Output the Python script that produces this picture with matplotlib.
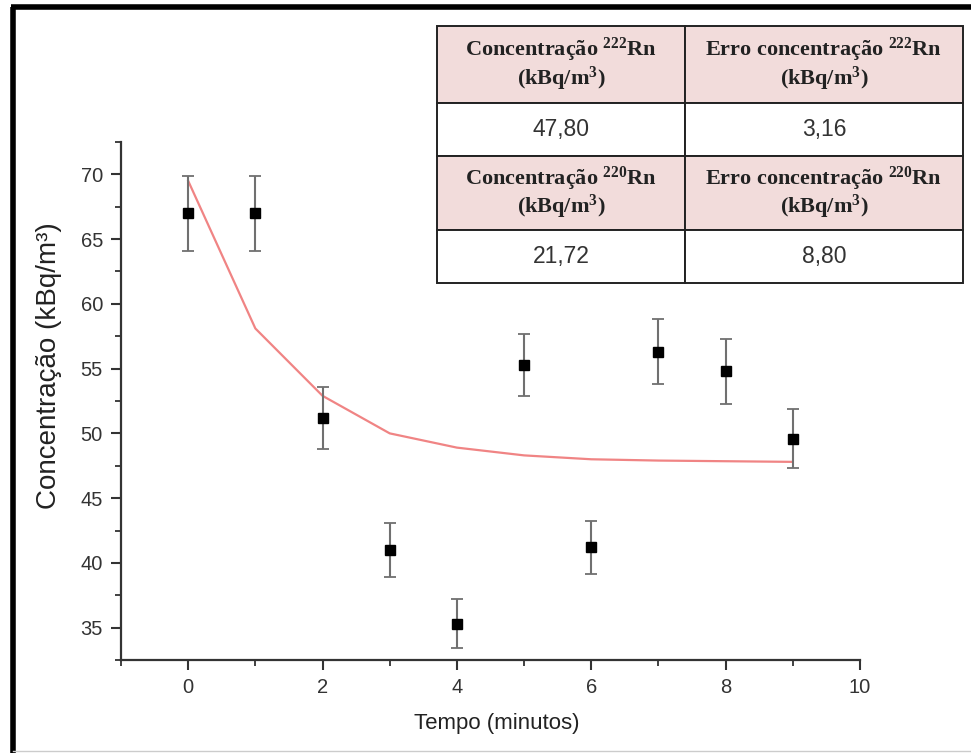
import matplotlib
matplotlib.use("Agg")
import matplotlib.pyplot as plt
from matplotlib.lines import Line2D
from matplotlib.patches import Rectangle
from matplotlib.ticker import MultipleLocator

plt.rcParams["mathtext.fontset"] = "custom"
plt.rcParams["mathtext.rm"] = "Liberation Serif:bold"
plt.rcParams["mathtext.it"] = "Liberation Serif:bold:italic"
plt.rcParams["mathtext.bf"] = "Liberation Serif:bold"

# ---- data ----
tempo = [0, 1, 2, 3, 4, 5, 6, 7, 8, 9]
concentracao = [67.0, 67.0, 51.2, 41.0, 35.3, 55.3, 41.2, 56.3, 54.8, 49.6]
erro = [2.9, 2.9, 2.4, 2.1, 1.9, 2.4, 2.05, 2.5, 2.5, 2.3]
ajuste_t = [0, 1, 2, 3, 4, 5, 6, 7, 8, 9]
ajuste_y = [69.5, 58.1, 52.9, 50.0, 48.9, 48.3, 48.0, 47.9, 47.85, 47.8]

tabela_cabecalhos = [
    ["Concentração $^{222}$Rn\n(kBq/m$^{3}$)", "Erro concentração $^{222}$Rn\n(kBq/m$^{3}$)"],
    ["Concentração $^{220}$Rn\n(kBq/m$^{3}$)", "Erro concentração $^{220}$Rn\n(kBq/m$^{3}$)"],
]
tabela_valores = [["47,80", "3,16"], ["21,72", "8,80"]]

W, H = 971, 753
fig = plt.figure(figsize=(W / 100, H / 100), dpi=100)
fig.patch.set_facecolor("white")

sans = ["Liberation Sans", "DejaVu Sans"]
serif = ["Liberation Serif", "DejaVu Serif"]

ax = fig.add_axes([121 / W, 1 - 660 / H, (860 - 121) / W, (660 - 142) / H])
ax.errorbar(tempo, concentracao, yerr=erro, fmt="s", color="black", ms=7,
            ecolor="#707070", elinewidth=1.5, capsize=4.5, capthick=1.3, zorder=3)
ax.plot(ajuste_t, ajuste_y, color="#f08484", lw=1.6, zorder=2)

ax.set_xlim(-1, 10)
ax.set_ylim(32.5, 72.5)
ax.xaxis.set_major_locator(MultipleLocator(2))
ax.xaxis.set_minor_locator(MultipleLocator(1))
ax.yaxis.set_major_locator(MultipleLocator(5))
ax.yaxis.set_minor_locator(MultipleLocator(2.5))
for s in ["top", "right"]:
    ax.spines[s].set_visible(False)
for s in ["left", "bottom"]:
    ax.spines[s].set_color("#333333")
    ax.spines[s].set_linewidth(1.6)
ax.tick_params(which="major", direction="out", length=7, width=1.5, color="#333333",
               labelsize=14.5, labelcolor="#333333", pad=6)
ax.tick_params(which="minor", direction="out", length=4, width=1.3, color="#333333")
for lab in ax.get_xticklabels() + ax.get_yticklabels():
    lab.set_family(sans)
ax.set_xlabel("Tempo (minutos)", fontsize=16, family=sans, color="#222222")
ax.set_ylabel("Concentração (kBq/m\u00b3)", fontsize=20, family=sans, color="#222222")
ax.xaxis.set_label_coords((497 - 121) / 739, (660 - 724) / 518)
ax.xaxis.label.set_va("center")
ax.yaxis.set_label_coords((49 - 121) / 739, (660 - 366) / 518)
ax.yaxis.label.set_va("center")

# ---- table ----
tx0, tx1, txm = 437, 963, 685
rows = [26, 103, 156, 230, 283]
pink = "#f2dcdb"
for r in range(4):
    y0, y1 = rows[r], rows[r + 1]
    fc = pink if r % 2 == 0 else "white"
    for (xa, xb) in [(tx0, txm), (txm, tx1)]:
        fig.patches.append(Rectangle((xa / W, 1 - y1 / H), (xb - xa) / W, (y1 - y0) / H,
                                     transform=fig.transFigure, facecolor=fc,
                                     edgecolor="#222222", lw=1.4, zorder=5))
for r in range(4):
    yc = 1 - (rows[r] + rows[r + 1]) / 2 / H
    for c, (xa, xb) in enumerate([(tx0, txm), (txm, tx1)]):
        xc = (xa + xb) / 2 / W
        if r % 2 == 0:
            fig.text(xc, yc, tabela_cabecalhos[r // 2][c], ha="center", va="center",
                     family=serif, fontweight="bold", fontsize=16, color="#222222",
                     linespacing=1.0, zorder=6)
        else:
            fig.text(xc, yc, tabela_valores[r // 2][c], ha="center", va="center",
                     family=sans, fontsize=16.5, color="#333333", zorder=6)

# ---- outer frame ----
fig.lines.append(Line2D([13 / W, 13 / W], [1 - 7 / H, 0], transform=fig.transFigure,
                        color="black", lw=4, solid_capstyle="butt"))
fig.lines.append(Line2D([11 / W, 1], [1 - 7 / H, 1 - 7 / H], transform=fig.transFigure,
                        color="black", lw=4, solid_capstyle="butt"))
fig.lines.append(Line2D([13 / W, 1], [1 - 751 / H, 1 - 751 / H], transform=fig.transFigure,
                        color="#cccccc", lw=1))

fig.savefig("out.png", dpi=100)
